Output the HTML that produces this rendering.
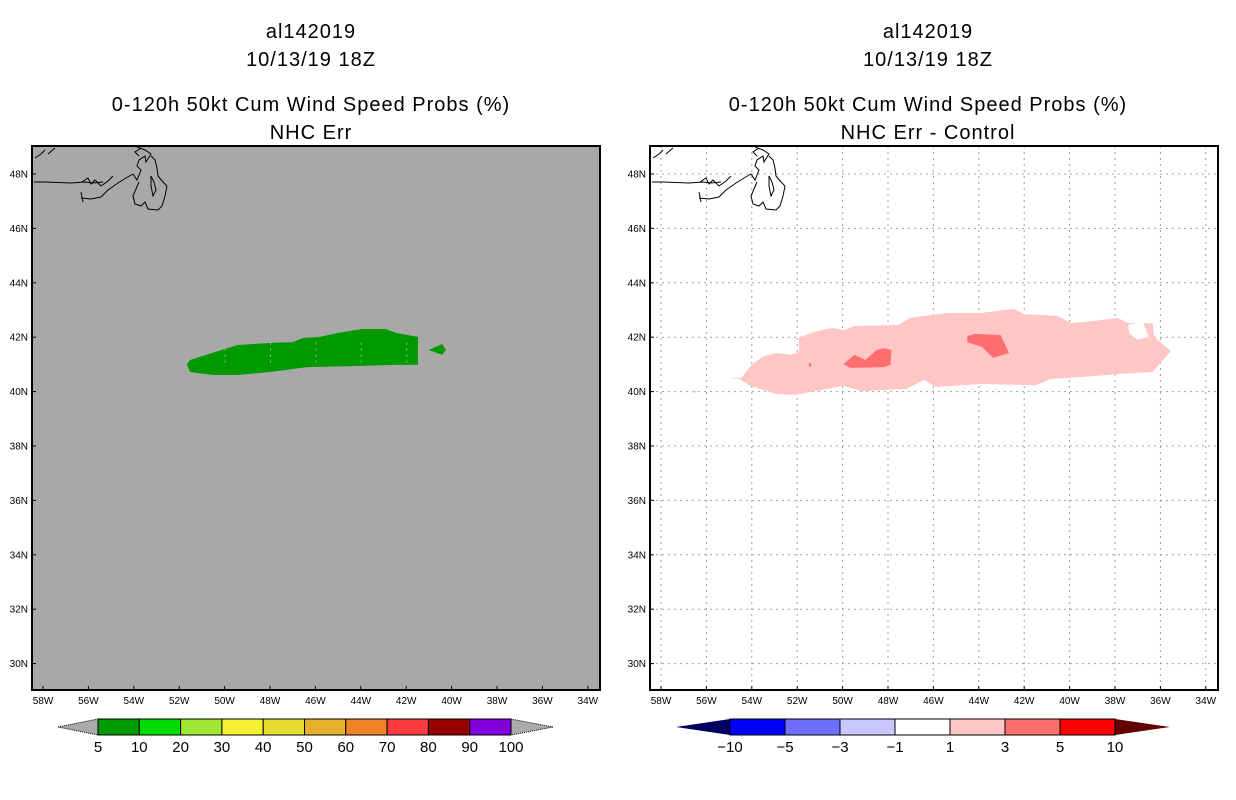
<!DOCTYPE html>
<html><head><meta charset="utf-8"><style>
body{margin:0;background:#fff;width:1236px;height:800px;overflow:hidden}
svg{display:block;font-family:"Liberation Sans",sans-serif}
.t{font-size:20px;text-anchor:middle;letter-spacing:1px}
.ax{font-size:10px;fill:#000}
.cb{font-size:15px;text-anchor:middle}
</style></head><body>
<svg id="s" width="1236" height="800">
<g>
<text class="t" x="311" y="38">al142019</text>
<text class="t" x="311" y="66">10/13/19 18Z</text>
<text class="t" x="311" y="111">0-120h 50kt Cum Wind Speed Probs (%)</text>
<text class="t" x="311" y="139">NHC Err</text>
</g>
<g>
<text class="t" x="928" y="38">al142019</text>
<text class="t" x="928" y="66">10/13/19 18Z</text>
<text class="t" x="928" y="111">0-120h 50kt Cum Wind Speed Probs (%)</text>
<text class="t" x="928" y="139">NHC Err - Control</text>
</g>
<g id="L"></g>
<g id="R"></g>
<g id="CB"></g>
</svg>
<script>
const NS="http://www.w3.org/2000/svg";
const lonTicks=[-58,-56,-54,-52,-50,-48,-46,-44,-42,-40,-38,-36,-34];
const latTicks=[48,46,44,42,40,38,36,34,32,30];
const greenMain=[[-51.66,41.01],[-51.52,41.16],[-49.98,41.57],[-49.45,41.71],[-48.0,41.79],[-46.99,41.82],[-46.55,41.97],[-45.8,42.01],[-45.05,42.15],[-43.95,42.3],[-42.93,42.3],[-42.41,42.15],[-41.48,42.01],[-41.48,40.98],[-42.49,40.98],[-44.17,40.94],[-46.37,40.9],[-48.0,40.72],[-49.45,40.61],[-50.51,40.61],[-51.52,40.72]];
const greenSmall=[[-41.0,41.53],[-40.42,41.75],[-40.25,41.53],[-40.42,41.35]];
const diffLight=[[-55.06,40.5],[-54.46,40.5],[-54.05,40.94],[-53.56,41.27],[-52.91,41.42],[-52.26,41.35],[-51.93,41.46],[-51.93,41.97],[-51.28,42.19],[-50.46,42.34],[-49.97,42.26],[-49.48,42.41],[-47.53,42.45],[-47.04,42.71],[-45.41,42.89],[-43.94,42.89],[-42.47,43.04],[-41.98,42.85],[-40.51,42.78],[-39.94,42.52],[-38.88,42.6],[-37.9,42.71],[-37.41,42.52],[-36.35,42.52],[-36.27,42.01],[-35.54,41.49],[-36.35,40.72],[-37.74,40.65],[-39.37,40.54],[-40.84,40.46],[-41.49,40.24],[-43.94,40.28],[-45.9,40.17],[-46.39,40.43],[-47.2,40.1],[-49.16,40.02],[-49.97,40.21],[-52.09,39.88],[-52.91,39.91],[-54.05,40.21],[-54.54,40.46]];
const diffHole=[[-37.41,42.45],[-36.76,42.56],[-36.52,42.01],[-37.0,41.9],[-37.38,42.15]];
const diffDark1=[[-49.97,41.01],[-49.48,41.35],[-48.99,41.16],[-48.51,41.53],[-48.18,41.6],[-47.85,41.53],[-47.89,40.98],[-48.18,40.9],[-49.65,40.87]];
const diffDark2=[[-44.51,42.04],[-44.18,42.12],[-43.04,42.08],[-42.67,41.42],[-43.37,41.24],[-43.86,41.64],[-44.51,41.82]];
const diffDot1=[[-51.5,40.98],[-51.44,41.08],[-51.36,40.98],[-51.44,40.9]];
const diffDot2=[[-56.6,40.0],[-56.5,40.04],[-56.4,40.0],[-56.5,39.95]];
const leftLevels=["5","10","20","30","40","50","60","70","80","90","100"];
const leftColors=["#009a00","#00dc00","#a0e632","#f5f032","#e6dc32","#e6af2d","#f08228","#fa3c3c","#960000","#8200dc"];
const rightLevels=["-10","-5","-3","-1","1","3","5","10"];
const rightColors=["#0000ff","#6e6eff","#c8c8ff","#ffffff","#ffc6c6","#ff6e6e","#ff0000"];

function el(p,tag,at){const e=document.createElementNS(NS,tag);for(const k in at)e.setAttribute(k,at[k]);p.appendChild(e);return e;}
function mk(ox){
  const W=568,H=544;
  const x=lon=>ox+11+(lon+58)*22.7;
  const y=lat=>174+(48-lat)*27.2;
  return {x,y,ox,W,H};
}
function poly(g,pr,pts,fill,name){
  const p=el(g,'polygon',{points:pts.map(d=>pr.x(d[0]).toFixed(1)+','+pr.y(d[1]).toFixed(1)).join(' '),fill:fill});
  
  
}
const coast="M1,36 L12,36 L38,37 L52,36 L60,37 L70,36 M49,36 L55,32 L58,38 L62,34 L68,40 L75,35 L80,30 M48,52 L58,53 L68,51 L75,44 L85,37 L93,32 L100,28 L104,34 L108,24 L104,20 L106,14 L112,10 L113,16 L118,8 L112,4 L104,1 M108,2 L102,6 L106,10 M118,10 L122,14 L124,22 L125,30 L130,36 L134,40 L132,50 L129,60 L125,64 L115,63 L112,56 L108,60 L102,58 L100,50 L103,43 L106,36 M118,30 L121,36 L123,44 L120,50 L118,40 Z M48,46 L50,56 M2,12 L8,8 L12,4 M15,8 L22,2";
function drawMap(gid,pr,right){
  const g=document.getElementById(gid);
  const ox=pr.ox;
  const bg=el(g,'rect',{x:ox,y:146,width:568,height:544,fill:right?'#fff':'#a8a8a8'});
  
  
  if(right){
    const gg=el(g,'g',{stroke:'#a0a0a0','stroke-width':1,'stroke-dasharray':'2,4'});
    
    
    lonTicks.forEach(l=>el(gg,'line',{x1:pr.x(l),x2:pr.x(l),y1:146,y2:690}));
    latTicks.forEach(l=>el(gg,'line',{x1:ox,x2:ox+568,y1:pr.y(l),y2:pr.y(l)}));
    poly(g,pr,diffLight,'#ffc6c6','positive-diff-1-3');
    poly(g,pr,diffHole,'#ffffff','diff-hole');
    poly(g,pr,diffDark1,'#ff6e6e','positive-diff-3-5-a');
    poly(g,pr,diffDark2,'#ff6e6e','positive-diff-3-5-b');
    poly(g,pr,diffDot1,'#ff6e6e','positive-diff-dot');
    poly(g,pr,diffDot2,'#ffc6c6','positive-diff-dot-2');
  } else {
    poly(g,pr,greenMain,'#009a00','prob-5-10-region');
    poly(g,pr,greenSmall,'#009a00','prob-5-10-island');
    const gg=el(g,'g',{stroke:'#b0b0b0','stroke-width':1,'stroke-dasharray':'2,4'});
    [-50,-48,-46,-44,-42].forEach(l=>el(gg,'line',{x1:pr.x(l)+0.5,x2:pr.x(l)+0.5,y1:pr.y(41.8),y2:pr.y(40.95)}));
  }
  const c=el(g,'path',{d:coast,transform:`translate(${ox+1},146)`,fill:'none',stroke:'#000','stroke-width':1});
  
  
  const fr=el(g,'rect',{x:ox,y:146,width:568,height:544,fill:'none',stroke:'#000','stroke-width':2});
  
  
  lonTicks.forEach(l=>{
    el(g,'line',{x1:pr.x(l),x2:pr.x(l),y1:690,y2:686,stroke:'#000'});
    const t=el(g,'text',{x:pr.x(l),y:704,'text-anchor':'middle',class:'ax'});
    t.textContent=(-l)+'W';
    
    
  });
  latTicks.forEach(l=>{
    el(g,'line',{x1:ox,x2:ox+4,y1:pr.y(l),y2:pr.y(l),stroke:'#000'});
    const t=el(g,'text',{x:ox-4,y:pr.y(l)+3.5,'text-anchor':'end',class:'ax'});
    t.textContent=l+'N';
    
    
  });
}
drawMap('L',mk(32),false);
drawMap('R',mk(650),true);

function colorbar(x0,x1,tl,tr,cols,labs,lcol,rcol){
  const g=document.getElementById('CB');
  const y0=719,y1=735,ym=727,n=cols.length,w=(x1-x0)/n;
  const a=el(g,'polygon',{points:`${tl},${ym} ${x0},${y0} ${x0},${y1}`,fill:lcol,stroke:lcol==='#aaaaaa'?'#000':'none','stroke-dasharray':'1,1'});
  
  
  const b=el(g,'polygon',{points:`${tr},${ym} ${x1},${y0} ${x1},${y1}`,fill:rcol,stroke:rcol==='#aaaaaa'?'#000':'none','stroke-dasharray':'1,1'});
  
  
  cols.forEach((c,i)=>{
    const r=el(g,'rect',{x:x0+i*w,y:y0,width:w,height:y1-y0,fill:c,stroke:'#000','stroke-width':1});
    
    
  });
  labs.forEach((s,i)=>{
    const t=el(g,'text',{x:x0+i*w,y:752,class:'cb'});
    t.textContent=s.replace('-','\u2212');
    
    
  });
}
colorbar(98,511,58,553,leftColors,leftLevels,'#aaaaaa','#aaaaaa');
colorbar(730,1115,676,1170,rightColors,rightLevels,'#000064','#640000');
</script>
</body></html>
